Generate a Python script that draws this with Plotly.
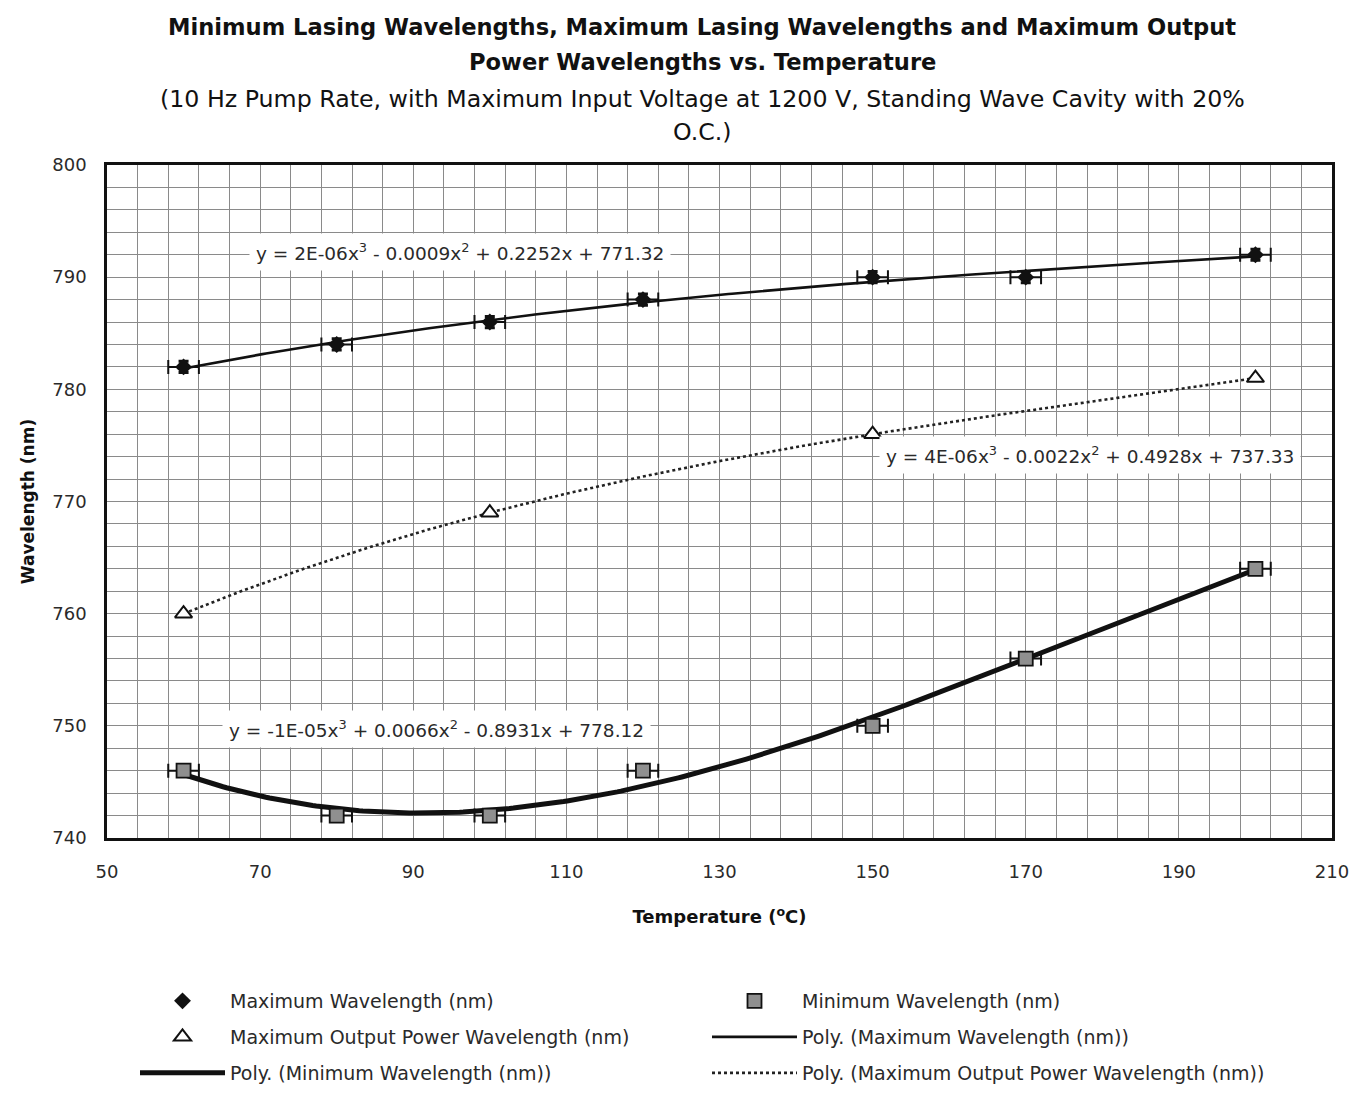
import numpy as np
import plotly.graph_objects as go

# Temperature (deg C) and measured wavelengths (nm)
temp_max = [60, 80, 100, 120, 150, 170, 200]
max_wavelength = [782, 784, 786, 788, 790, 790, 792]

temp_min = [60, 80, 100, 120, 150, 170, 200]
min_wavelength = [746, 742, 742, 746, 750, 756, 764]

temp_power = [60, 100, 150, 200]
max_power_wavelength = [760, 769, 776, 781]

temp_err = 2.0      # temperature uncertainty (deg C)
wl_err_max = 0.5    # wavelength uncertainty on the maximum-wavelength readings

eq_max = "y = 2E-06x<sup>3</sup> - 0.0009x<sup>2</sup> + 0.2252x + 771.32"
eq_power = "y = 4E-06x<sup>3</sup> - 0.0022x<sup>2</sup> + 0.4928x + 737.33"
eq_min = "y = -1E-05x<sup>3</sup> + 0.0066x<sup>2</sup> - 0.8931x + 778.12"

FONT = "DejaVu Sans, Liberation Sans, sans-serif"
TXT = "#2a2a2a"

W, H = 1363, 1094
ML, MR, MT, MB = 107, 31, 165, 256
PLOT_H = H - MT - MB
PLOT_W = W - ML - MR


def paper_y(py):
    """Pixel row (from top) -> paper y coordinate."""
    return (H - MB - py) / PLOT_H


def cubic_trend(x, y):
    """Least-squares cubic trendline sampled over the data range."""
    coef = np.polyfit(x, y, 3)
    xs = np.linspace(min(x), max(x), 300)
    return xs, np.polyval(coef, xs)


fig = go.Figure()

# trendlines (drawn first, so markers sit on top)
xs, ys = cubic_trend(temp_max, max_wavelength)
fig.add_trace(go.Scatter(x=xs, y=ys, mode="lines", name="Poly. (Maximum Wavelength (nm))",
                         line=dict(color="#111", width=2.6), legend="legend2", legendrank=2))
xs, ys = cubic_trend(temp_min, min_wavelength)
fig.add_trace(go.Scatter(x=xs, y=ys, mode="lines", name="Poly. (Minimum Wavelength (nm))",
                         line=dict(color="#111", width=5), legend="legend3", legendrank=1))
xs, ys = cubic_trend(temp_power, max_power_wavelength)
fig.add_trace(go.Scatter(x=xs, y=ys, mode="lines", name="Poly. (Maximum Output Power Wavelength (nm))",
                         line=dict(color="#222", width=2.6, dash="dot"), legend="legend3", legendrank=2))

# measured points
fig.add_trace(go.Scatter(
    x=temp_max, y=max_wavelength, mode="markers", name="Maximum Wavelength (nm)",
    marker=dict(symbol="diamond", size=13, color="#111"),
    error_x=dict(type="constant", value=temp_err, color="#111", thickness=2, width=7),
    error_y=dict(type="constant", value=wl_err_max, color="#111", thickness=3, width=5),
    legend="legend", legendrank=1))
fig.add_trace(go.Scatter(
    x=temp_min, y=min_wavelength, mode="markers", name="Minimum Wavelength (nm)",
    marker=dict(symbol="square", size=14, color="#8f8f8f", line=dict(color="#111", width=1.8)),
    error_x=dict(type="constant", value=temp_err, color="#111", thickness=2, width=7),
    legend="legend", legendrank=2))
fig.add_trace(go.Scatter(
    x=temp_power, y=max_power_wavelength, mode="markers", name="Maximum Output Power Wavelength (nm)",
    marker=dict(symbol="triangle-up", size=15, color="white", line=dict(color="#111", width=2)),
    legend="legend2", legendrank=1))

# trendline equations
for tx, x, y in [(eq_max, 96.1, 792.25), (eq_power, 178.4, 774.15), (eq_min, 93.0, 749.7)]:
    fig.add_annotation(x=x, y=y, xref="x", yref="y", text=tx, showarrow=False,
                       font=dict(family=FONT, size=18.5, color=TXT),
                       bgcolor="white", borderpad=6)

# title block
title_x = (702 - ML) / PLOT_W
title_lines = [
    ("<b>Minimum Lasing Wavelengths, Maximum Lasing Wavelengths and Maximum Output</b>", 27, 22.6),
    ("<b>Power Wavelengths vs. Temperature</b>", 62, 22.6),
    ("(10 Hz Pump Rate, with Maximum Input Voltage at 1200 V, Standing Wave Cavity with 20%", 99, 23.7),
    ("O.C.)", 132, 23.7),
]
for tx, py, fs in title_lines:
    fig.add_annotation(x=title_x, xref="paper", y=paper_y(py), yref="paper", text=tx,
                       showarrow=False, xanchor="center", yanchor="middle",
                       font=dict(family=FONT, size=fs, color="#111"))

grid = "#8a8a8a"
fig.update_xaxes(range=[50, 210], tick0=50, dtick=20, showgrid=True, gridcolor=grid, gridwidth=1,
                 minor=dict(dtick=4, tick0=50, showgrid=True, gridcolor=grid, gridwidth=1),
                 showline=True, linecolor="#111", linewidth=2.5, mirror=True, zeroline=False,
                 ticks="", ticklabelstandoff=16,
                 tickfont=dict(family=FONT, size=18, color=TXT),
                 title=dict(text="<b>Temperature (<sup>o</sup>C)</b>", standoff=30,
                            font=dict(family=FONT, size=18, color="#111")))
fig.update_yaxes(range=[740, 800], tick0=740, dtick=10, showgrid=True, gridcolor=grid, gridwidth=1,
                 minor=dict(dtick=2, tick0=740, showgrid=True, gridcolor=grid, gridwidth=1),
                 showline=True, linecolor="#111", linewidth=2.5, mirror=True, zeroline=False,
                 ticks="", ticklabelstandoff=14,
                 tickfont=dict(family=FONT, size=18, color=TXT),
                 title=dict(text="<b>Wavelength (nm)</b>", standoff=14,
                            font=dict(family=FONT, size=17, color="#111")))

leg_common = dict(orientation="h", xanchor="left", yanchor="middle",
                  x=(ML + 28) / W, xref="container", yref="container",
                  entrywidth=472, entrywidthmode="pixels", itemwidth=85,
                  font=dict(family=FONT, size=19, color=TXT), bgcolor="rgba(0,0,0,0)")
fig.update_layout(
    width=W, height=H,
    margin=dict(l=ML, r=MR, t=MT, b=MB, autoexpand=False),
    paper_bgcolor="white", plot_bgcolor="white",
    showlegend=True,
    legend=dict(**leg_common, y=1 - 1001 / H),
    legend2=dict(**leg_common, y=1 - 1037 / H),
    legend3=dict(**leg_common, y=1 - 1073 / H),
)

fig.write_html("out.html")
